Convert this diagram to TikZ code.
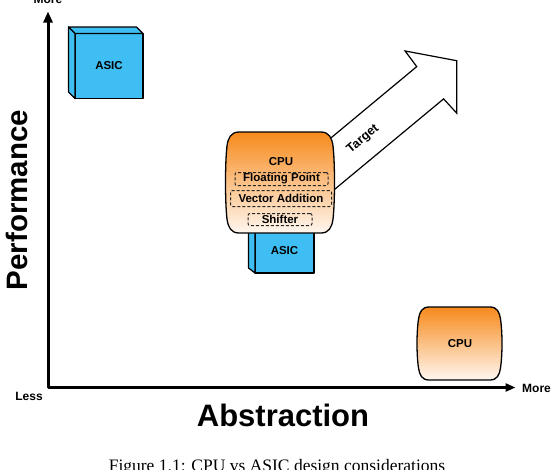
\documentclass[tikz,border=0pt]{standalone}
\usepackage{fontspec}
\setmainfont{Liberation Sans}
\newfontfamily\capfont{Liberation Serif}
\usetikzlibrary{arrows.meta}
\definecolor{asicblue}{RGB}{62,190,242}
\definecolor{cputop}{RGB}{247,138,28}
\definecolor{cpubot}{RGB}{255,247,240}
\begin{document}
\begin{tikzpicture}[x=1pt,y=-1pt,
  lbl/.style={font=\fontsize{12}{14}\selectfont\bfseries, inner sep=0pt},
  face/.style={draw=black, fill=asicblue, line width=1.2pt, line join=round},
  asicfront/.style={face, font=\fontsize{11.5}{14}\selectfont\bfseries, outer sep=0pt, inner sep=0pt},
  cpushape/.style={draw=black, line width=1.3pt, top color=cputop, bottom color=cpubot},
  subbox/.style={draw=black!85, dash pattern=on 3pt off 2pt, rounded corners=2pt, line width=1pt,
    inner sep=0pt, font=\fontsize{11.5}{14}\selectfont\bfseries},
  axisline/.style={line width=3pt, line join=round}]
\useasboundingbox (0,0) rectangle (554,469);

% axes
\coordinate (o) at (48,387.5);
\coordinate (ytop) at (48,11.5);
\coordinate (xend) at (515.5,387.5);
\draw[axisline, {Triangle[length=11pt,width=9pt]}-{Triangle[length=10pt,width=8pt]}] (ytop) -- (o) -- (xend);
\node[lbl, anchor=base] (ymore) at (48,3.5) {More};
\node[lbl] (xmore) at (536.5,388) {More};
\node[lbl] (less) at (29,396) {Less};
\node[font=\fontsize{31}{36}\selectfont\bfseries, inner sep=0pt] (xlab) at (283,415.5) {Abstraction};
\node[font=\fontsize{29.5}{36}\selectfont\bfseries, inner sep=0pt, rotate=90] (ylab) at (17,200) {Performance};

% top ASIC cube
\node[asicfront, minimum width=68pt, minimum height=65pt] (asic1) at (109,66) {ASIC};
\draw[face] (asic1.north west) -- ++(-6.5,-6.5) -- ([shift={(-6.5,-6.5)}]asic1.north east) -- (asic1.north east) -- cycle;
\draw[face] (asic1.north west) -- ++(-6.5,-6.5) -- ([shift={(-6.5,-6.5)}]asic1.south west) -- (asic1.south west) -- cycle;

% middle ASIC (behind CPU)
\node[asicfront, minimum width=59pt, minimum height=44pt] (asic2) at (284.5,251) {ASIC};
\draw[face] (asic2.north west) -- ++(-6.5,-5) -- ([shift={(-6.5,-5)}]asic2.south west) -- (asic2.south west) -- cycle;

% target arrow
\draw[draw=black, fill=white, line width=1.2pt, line join=miter]
  (301.0,162.8) -- (416.75,66.6) -- (405.06,50.97) -- (456.7,60.7) -- (456.82,113.25)
  -- (443.6,98.9) -- (327.8,195.0) -- cycle;
\node[lbl, font=\fontsize{12.5}{14}\selectfont\bfseries, rotate=40] (target) at (363,139.3) {Target};

% middle CPU
\path[cpushape] (239,132) -- (321,132) .. controls (329,132) and (332,138) .. (333,146)
  .. controls (335,163) and (335,202) .. (333,219) .. controls (332,227) and (329,233) .. (321,233)
  -- (239,233) .. controls (231,233) and (228,227) .. (227,219)
  .. controls (225,202) and (225,163) .. (227,146) .. controls (228,138) and (231,132) .. (239,132) -- cycle;
\node[lbl, font=\fontsize{11.5}{14}\selectfont\bfseries] (cpu1) at (281,162) {CPU};
\node[subbox, minimum width=93pt, minimum height=13pt] (fp) at (281.5,179) {Floating Point};
\node[subbox, minimum width=101pt, minimum height=16pt] (va) at (281,198.5) {Vector Addition};
\node[subbox, minimum width=64pt, minimum height=12pt] (sh) at (280,219.5) {Shifter};

% small CPU
\path[cpushape] (429,307) -- (490,307) .. controls (497,307) and (499.5,312) .. (500.5,319)
  .. controls (502.5,333) and (502.5,354) .. (500.5,368) .. controls (499.5,375) and (497,380) .. (490,380)
  -- (429,380) .. controls (422,380) and (419.5,375) .. (418.5,368)
  .. controls (416.5,354) and (416.5,333) .. (418.5,319) .. controls (419.5,312) and (422,307) .. (429,307) -- cycle;
\node[lbl, font=\fontsize{11.5}{14}\selectfont\bfseries] (cpu2) at (460,344) {CPU};

% caption
\node[font=\capfont\fontsize{17.5}{20}\selectfont, anchor=base, inner sep=0pt] (cap) at (277,471) {Figure 1.1: CPU vs ASIC design considerations};
\end{tikzpicture}
\end{document}
